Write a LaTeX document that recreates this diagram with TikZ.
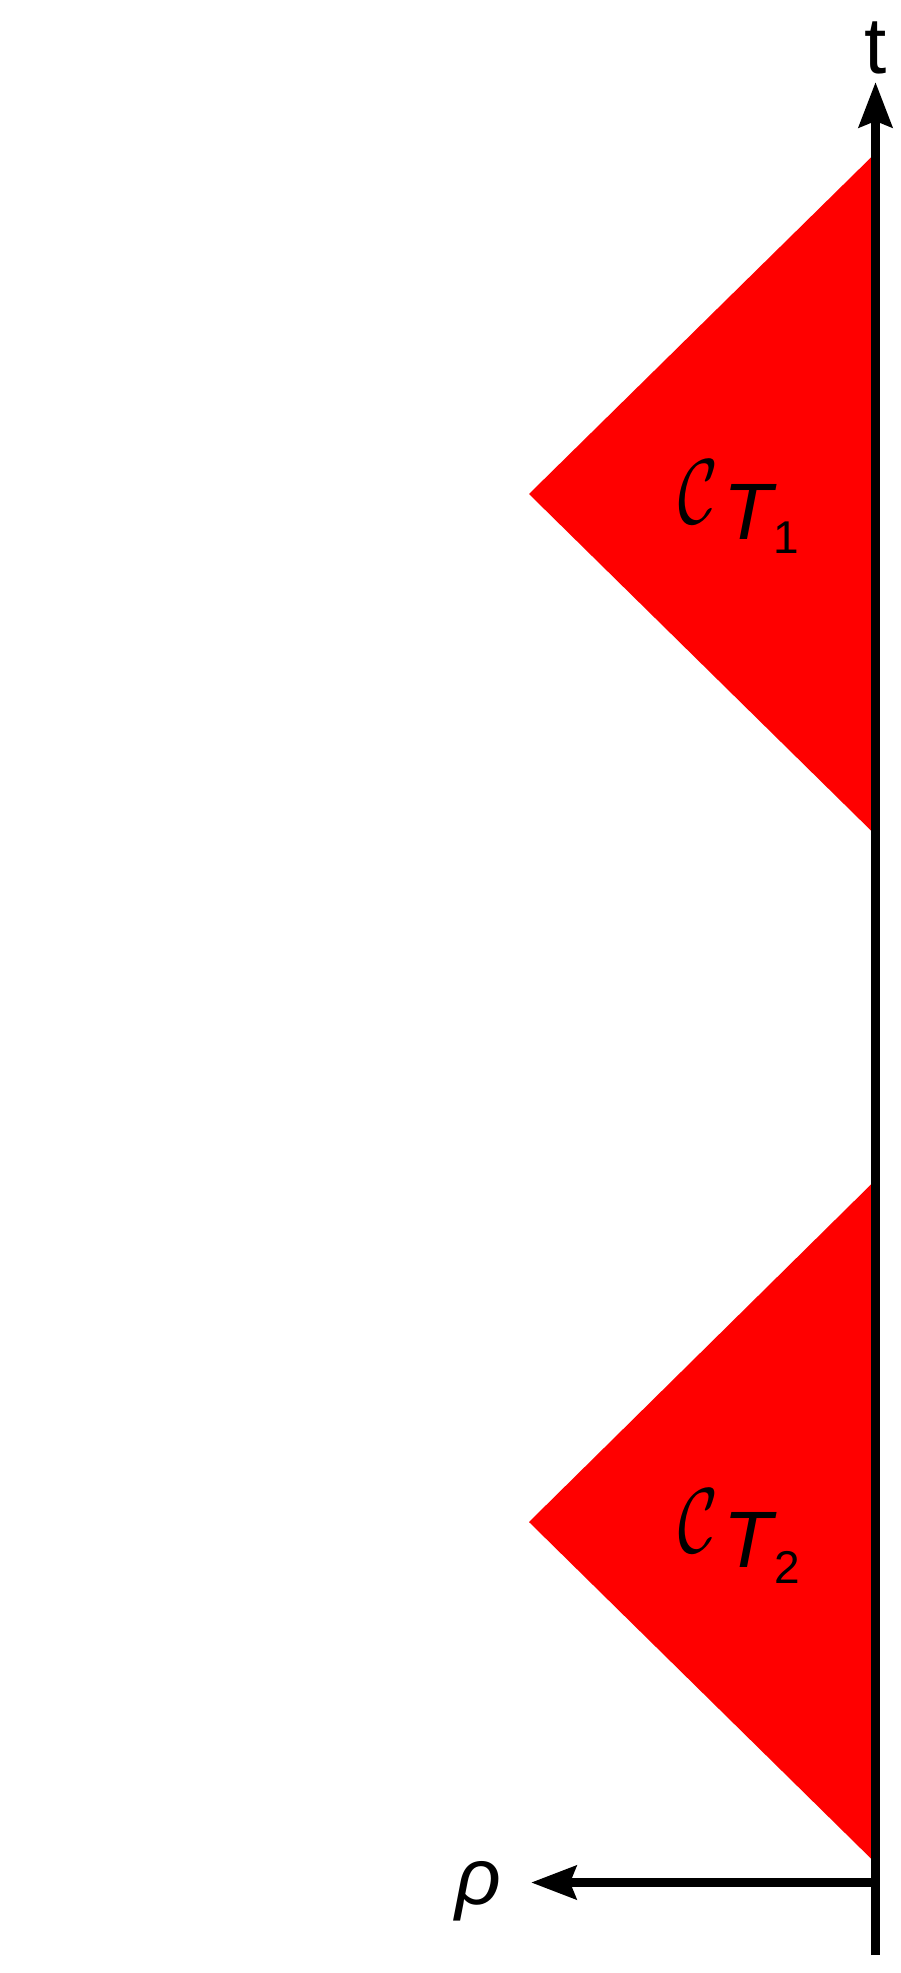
\documentclass[tikz,border=0pt]{standalone}
\usepackage{fontspec}
\usepackage{graphicx}
\setmainfont{Liberation Sans}
\usetikzlibrary{arrows.meta}
\begin{document}
\begin{tikzpicture}[x=1pt,y=-1pt,
  axisline/.style={line width=9pt,draw=black},
  tipped/.style={-{Stealth[length=45pt,width=33pt,inset=6pt]}},
  cone/.style={fill=red,draw=none},
  lbl/.style={inner sep=0pt,outer sep=0pt,font=\fontsize{80}{80}\selectfont},
  calC/.style={inner sep=0pt,outer sep=0pt},
  sub/.style={inner sep=0pt,outer sep=0pt,font=\fontsize{46}{46}\selectfont}]
\useasboundingbox (0,0) rectangle (900,1973);
\fill[white] (0,0) rectangle (900,1973);
% cones
\fill[cone] (875.5,153) -- (529,494) -- (875.5,835) -- cycle;
\fill[cone] (875.5,1180) -- (529,1522) -- (875.5,1863) -- cycle;
% axes
\coordinate (tb) at (875.5,1955);
\coordinate (tt) at (875.5,82);
\coordinate (ro) at (875.5,1882.5);
\coordinate (rt) at (531,1882.5);
\draw[axisline,tipped] (tb) -- (tt);
\draw[axisline,tipped] (ro) -- (rt);
% labels
\node[lbl,anchor=base] (tlab) at (876,73) {t};
\node[lbl,anchor=base] (rholab) at (478,1904) {\itshape ρ};
\node[calC,anchor=base] (c1) at (698,523) {\scalebox{6.8}[9.2]{$\mathcal{C}$}};
\node[lbl,anchor=base] (t1) at (748,539) {\itshape T};
\node[sub,anchor=base] (s1) at (786,553) {1};
\node[calC,anchor=base] (c2) at (698,1552) {\scalebox{6.8}[9.2]{$\mathcal{C}$}};
\node[lbl,anchor=base] (t2) at (748,1567) {\itshape T};
\node[sub,anchor=base] (s2) at (787,1583) {2};
\end{tikzpicture}
\end{document}
